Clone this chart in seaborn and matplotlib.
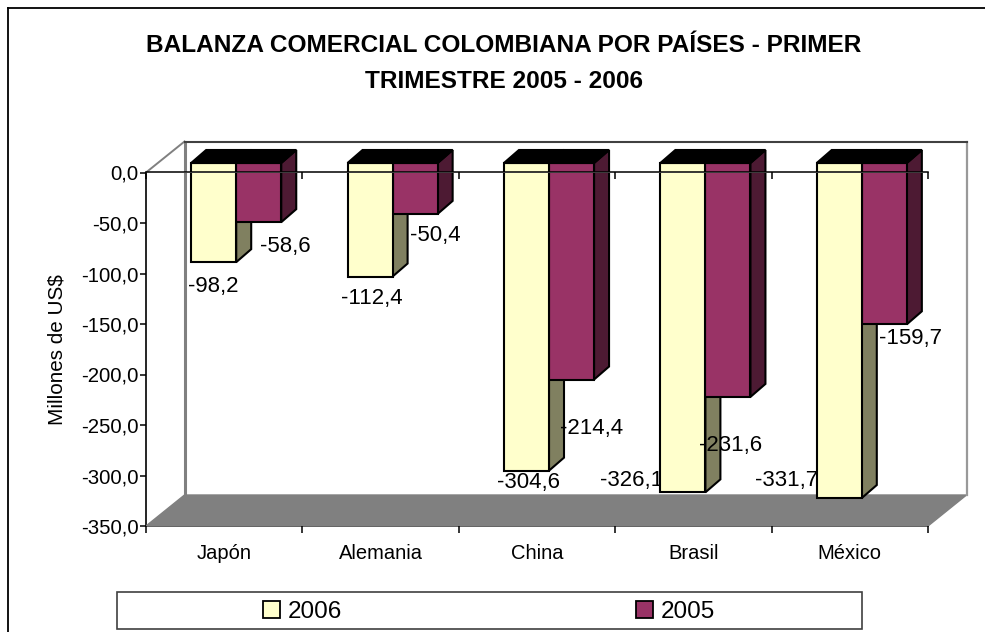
import matplotlib
matplotlib.use('Agg')
import pandas as pd
import seaborn as sns
import matplotlib.pyplot as plt
from matplotlib.patches import Polygon, Rectangle
from matplotlib.lines import Line2D
from matplotlib.transforms import Affine2D

paises = ['Japón', 'Alemania', 'China', 'Brasil', 'México']
valores_2006 = [-98.2, -112.4, -304.6, -326.1, -331.7]
valores_2005 = [-58.6, -50.4, -214.4, -231.6, -159.7]
y_ticks = [0, -50, -100, -150, -200, -250, -300, -350]

W, H = 985, 632
AX_L, AX_R, AX_T, AX_B = 146, 928, 172.5, 526
AMARILLO, MORADO = '#FFFFCC', '#993366'
OLIVA, MORADO_OSC = '#808060', '#4D1A33'
GRIS = '#808080'
LW_BARRA = 1.5

# label offsets in pixels from the end of each bar
off_2006 = [(12, -15), (14, -12), (14, -2), (-39, 21), (-41, 27)]
off_2005 = [(39, -15), (32, -12), (32, -39), (15, -39), (38, -5)]

plt.rcParams['font.family'] = ['Liberation Sans', 'DejaVu Sans']

df = pd.DataFrame({
    'pais': paises * 2,
    'valor': valores_2006 + valores_2005,
    'anio': ['2006'] * 5 + ['2005'] * 5,
})

fig = plt.figure(figsize=(W / 100, H / 100), dpi=100)
ax = fig.add_axes([AX_L / W, 1 - AX_B / H, (AX_R - AX_L) / W, (AX_B - AX_T) / H])

sns.barplot(data=df, x='pais', y='valor', hue='anio', hue_order=['2006', '2005'],
            palette=[AMARILLO, MORADO], saturation=1, width=0.576, gap=0,
            edgecolor='black', linewidth=LW_BARRA, errorbar=None, ax=ax, legend=False)
ax.set_xlim(-0.5, 4.5)
ax.set_ylim(-350, 0)

# pixels to data units, so the fake 3d parts follow the axes scale
px_x = 5 / (AX_R - AX_L)
px_y = 350 / (AX_B - AX_T)

# back wall and floor
wd_x, wd_y = 38.5 * px_x, 31 * px_y
piso = Polygon([(-0.5, -350), (-0.5 + wd_x, -350 + wd_y), (4.5 + wd_x, -350 + wd_y), (4.5, -350)],
               facecolor=GRIS, edgecolor=GRIS, lw=1, clip_on=False, zorder=1)
ax.add_patch(piso)
x0, x1, y0, y1 = -0.5 + wd_x, 4.5 + wd_x, -350 + wd_y, wd_y
ax.add_line(Line2D([-0.5, x0], [0, y1], color=GRIS, lw=1.4, clip_on=False, zorder=1))
ax.add_line(Line2D([x0, x0], [y0, y1], color=GRIS, lw=2.2, clip_on=False, zorder=1))
ax.add_line(Line2D([x1, x1], [y0, y1], color='#999999', lw=1.6, clip_on=False, zorder=1))
ax.add_line(Line2D([x0, x1], [y1, y1], color='#404040', lw=1.5, clip_on=False, zorder=1))

# 3d offset of the bars: the front faces sit in front of the axes plane
shift = Affine2D().translate(12, 9.5)
dx, dy = 15 * px_x, 13 * px_y
tr = ax.transData + shift

n = len(paises)
amarillas, moradas = ax.patches[:n], ax.patches[n:2 * n]
for barras, lado, z in [(amarillas, OLIVA, 3), (moradas, MORADO_OSC, 3.2)]:
    for b in barras:
        xa, xb, v = b.get_x(), b.get_x() + b.get_width(), b.get_height()
        ax.add_patch(Polygon([(xb, 0), (xb + dx, dy), (xb + dx, v + dy), (xb, v)], closed=True,
                             facecolor=lado, edgecolor='black', lw=LW_BARRA, transform=tr,
                             clip_on=False, zorder=z))
        ax.add_patch(Polygon([(xa, 0), (xa + dx, dy), (xb + dx, dy), (xb, 0)], closed=True,
                             facecolor='black', edgecolor='black', lw=LW_BARRA, transform=tr,
                             clip_on=False, zorder=z + 2.5))
        b.set_transform(tr)
        b.set_clip_on(False)
for b in moradas:
    b.set_zorder(4)
for b in amarillas:
    b.set_zorder(5)

# data labels: 2006 goes under the yellow faces like in the original, 2005 on top
for barras, vals, offs, z in [(amarillas, valores_2006, off_2006, 4.5),
                              (moradas, valores_2005, off_2005, 6)]:
    for b, v, o in zip(barras, vals, offs):
        ax.annotate(f'{v:.1f}'.replace('.', ','), xy=(b.get_x() + b.get_width() / 2, v),
                    xytext=o, textcoords='offset pixels', ha='center', va='center',
                    fontsize=16, color='black', zorder=z, annotation_clip=False)

# axes
for s in ['right', 'top']:
    ax.spines[s].set_visible(False)
for s in ['left', 'bottom']:
    ax.spines[s].set_linewidth(1.2)
    ax.spines[s].set_zorder(0.5)
limites = [i - 0.5 for i in range(n + 1)]
ax.set_xticks(limites)
ax.set_xticklabels([])
ax.set_xticks(range(n), labels=paises, minor=True)
ax.tick_params(axis='x', which='major', length=5, width=1.1, color='black')
ax.tick_params(axis='x', which='minor', length=0, labelsize=14.5, pad=12.7)
ax.set_yticks(y_ticks)
ax.set_yticklabels([f'{v:.1f}'.replace('.', ',') for v in y_ticks], fontsize=14.7)
ax.tick_params(axis='y', length=4.3, width=1.1, pad=1)
ax.set_xlabel('')
ax.set_ylabel('Millones de US$', fontsize=14.9, labelpad=10.8)

# zero line with its ticks, drawn over the bars
cero = ax.secondary_xaxis('top')
cero.set_xticks(limites)
cero.set_xticklabels([])
cero.tick_params(direction='in', length=4.7, width=1.1)
cero.spines['top'].set_linewidth(1.1)
cero.set_zorder(10)

# title
fig.text(504 / W, 1 - 45 / H, 'BALANZA COMERCIAL COLOMBIANA POR PAÍSES - PRIMER',
         ha='center', va='center', fontsize=17.6, fontweight='bold')
fig.text(504 / W, 1 - 82 / H, 'TRIMESTRE 2005 - 2006',
         ha='center', va='center', fontsize=17.6, fontweight='bold')

# chart frame: only top and left lines are inside the picture
fig.add_artist(Line2D([7.5 / W, 1], [1 - 8 / H, 1 - 8 / H], color='black', lw=1.3))
fig.add_artist(Line2D([7.5 / W, 7.5 / W], [0, 1 - 8 / H], color='black', lw=1.3))

# legend box
fig.add_artist(Rectangle((117 / W, 1 - 629 / H), 745 / W, 37 / H, transform=fig.transFigure,
                         facecolor='white', edgecolor='#404040', lw=1.2))
handles = [Rectangle((0, 0), 1, 1, facecolor=AMARILLO, edgecolor='black', lw=1.3),
           Rectangle((0, 0), 1, 1, facecolor=MORADO, edgecolor='black', lw=1.3)]
leg = fig.legend(handles, ['2006', '2005'], ncol=2, frameon=False, loc='center',
                 bbox_to_anchor=(489 / W, 1 - 612 / H), fontsize=17.5,
                 handlelength=0.7, handleheight=0.7, handletextpad=0.3, columnspacing=12.1,
                 borderpad=0, borderaxespad=0)
leg.set_zorder(10)

fig.savefig('out.png', dpi=100)
